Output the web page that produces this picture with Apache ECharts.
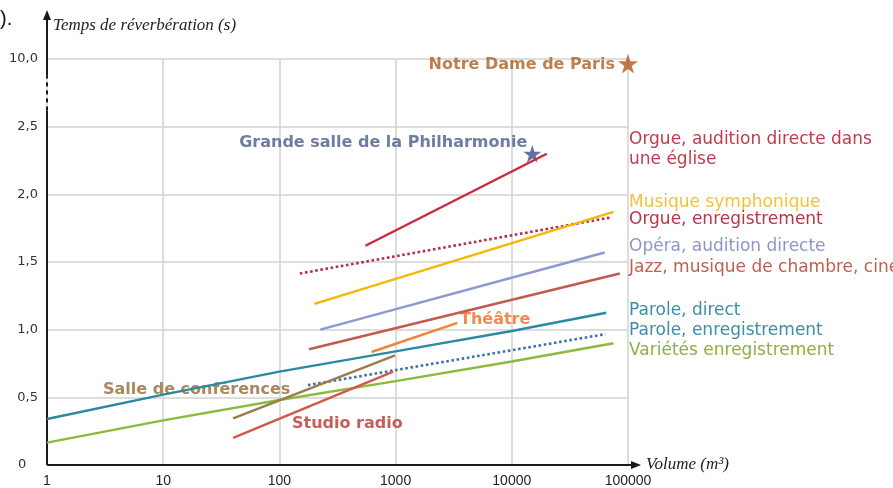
<!DOCTYPE html>
<html>
<head>
<meta charset="utf-8">
<script src="https://cdn.jsdelivr.net/npm/echarts@6/dist/echarts.min.js"></script>
<style>
html, body { margin: 0; padding: 0; background: #fff; }
#chart { width: 893px; height: 488px; }
</style>
</head>
<body>
<div id="chart"></div>
<script>
var orgueDirect = [[550, 1.62], [20000, 2.30]];
var orgueEnreg = [[150, 1.415], [72000, 1.83]];
var symphonique = [[200, 1.19], [75000, 1.87]];
var opera = [[225, 1.00], [63000, 1.57]];
var jazz = [[180, 0.855], [85000, 1.415]];
var theatre = [[620, 0.835], [3400, 1.05]];
var paroleDirect = [[1, 0.34], [10, 0.52], [100, 0.69], [1000, 0.84], [10000, 0.99], [65000, 1.125]];
var paroleEnreg = [[176, 0.59], [64000, 0.967]];
var varietes = [[1, 0.165], [10, 0.33], [100, 0.48], [1000, 0.62], [10000, 0.765], [75000, 0.90]];
var conferences = [[40, 0.345], [990, 0.81]];
var studioRadio = [[40, 0.20], [955, 0.69]];
var philharmonie = [[15000, 2.3]];
var notreDame = [[100000, 9.5]];

var yTicks = [0, 0.5, 1, 1.5, 2, 2.5, 10];

// the y axis is broken between 2,5 and 10,0 : one more step stands for 10 s
var BREAK_LOW = 2.5, BREAK_HIGH = 10, BREAK_TOP = 3;
function toAxisY(v) {
  return v <= BREAK_LOW ? v : BREAK_LOW + (v - BREAK_LOW) * (BREAK_TOP - BREAK_LOW) / (BREAK_HIGH - BREAK_LOW);
}
function mapPts(pts) {
  return pts.map(function (p) { return [p[0], toAxisY(p[1])]; });
}
function fr(v) {
  return v === 0 ? '0' : v.toFixed(1).replace('.', ',');
}

var STAR = 'path://M50,0 L61,35 L98,35 L68,57 L79,91 L50,70 L21,91 L32,57 L2,35 L39,35 Z';
var LABEL_FONT = 'DejaVu Sans';

function line(name, data, color, dotted) {
  return {
    name: name,
    type: 'line',
    data: mapPts(data),
    showSymbol: false,
    silent: true,
    lineStyle: { color: color, width: dotted ? 2.6 : 2.4, type: dotted ? 'dotted' : 'solid' }
  };
}

var chart = echarts.init(document.getElementById('chart'));
chart.setOption({
  animation: false,
  grid: { left: 47, right: 265, top: 59, bottom: 23 },
  xAxis: {
    type: 'log',
    logBase: 10,
    min: 1,
    max: 100000,
    name: 'Volume (m³)',
    nameLocation: 'end',
    nameGap: 18,
    nameTextStyle: { fontFamily: 'Liberation Serif', fontStyle: 'italic', fontSize: 17, color: '#222' },
    axisLine: { show: false },
    axisTick: { show: false },
    axisLabel: {
      margin: 9,
      fontFamily: 'Liberation Sans',
      fontSize: 14,
      color: '#222',
      formatter: function (v) { return String(Math.round(v)); }
    },
    splitLine: { show: true, lineStyle: { color: '#d2d2d2', width: 1.5 } }
  },
  yAxis: {
    type: 'value',
    min: 0,
    max: BREAK_TOP,
    interval: 0.5,
    axisLine: { show: false },
    axisTick: { show: false },
    axisLabel: {
      margin: 9,
      fontFamily: 'DejaVu Sans',
      fontSize: 13,
      color: '#333',
      formatter: function (v) {
        var real = yTicks[Math.round(v / 0.5)];
        return real === 0 ? '{z|0}' : fr(real);
      },
      rich: { z: { width: 20, align: 'left', fontFamily: 'DejaVu Sans', fontSize: 13, color: '#333' } }
    },
    splitLine: { show: true, lineStyle: { color: '#d2d2d2', width: 1.5 } }
  },
  series: [
    line('Orgue, audition directe dans une église', orgueDirect, '#cc2a3c'),
    line('Orgue, enregistrement', orgueEnreg, '#b02e50', true),
    line('Musique symphonique', symphonique, '#f5b800'),
    line('Opéra, audition directe', opera, '#8e99d2'),
    line('Jazz, musique de chambre, cinéma', jazz, '#c25a50'),
    line('Théâtre', theatre, '#f2843a'),
    line('Parole, direct', paroleDirect, '#2a8aa2'),
    line('Parole, enregistrement', paroleEnreg, '#3a72aa', true),
    line('Variétés enregistrement', varietes, '#8cba3c'),
    line('Salle de conférences', conferences, '#9c7c4c'),
    line('Studio radio', studioRadio, '#d2584e'),
    {
      name: 'Grande salle de la Philharmonie',
      type: 'scatter',
      data: mapPts(philharmonie),
      symbol: STAR,
      symbolSize: 18,
      itemStyle: { color: '#3d4d8c' },
      label: {
        show: true,
        formatter: 'Grande salle de la Philharmonie',
        position: 'left',
        distance: -4,
        offset: [0, -11],
        fontFamily: LABEL_FONT,
        fontWeight: 'bold',
        fontSize: 16,
        color: '#4b5a8a'
      }
    },
    {
      name: 'Notre Dame de Paris',
      type: 'scatter',
      data: mapPts(notreDame),
      symbol: STAR,
      symbolSize: 20,
      itemStyle: { color: '#b3561a' },
      label: {
        show: true,
        formatter: 'Notre Dame de Paris',
        position: 'left',
        distance: 3,
        offset: [0, 1],
        fontFamily: LABEL_FONT,
        fontWeight: 'bold',
        fontSize: 16,
        color: '#ae5f20'
      }
    }
  ]
});

// axis lines with arrows, the broken part of the y axis, and the annotations
function px(x, y) { return chart.convertToPixel({ gridIndex: 0 }, [x, y]); }
var o = px(1, 0);
var lowBreak = px(1, 2.62);
var highBreak = px(1, 2.88);
var xEnd = px(100000, 0)[0];
var axisStyle = { stroke: '#1a1a1a', lineWidth: 2 };

function txt(text, x, y, color, size, weight) {
  return {
    type: 'text',
    x: x,
    y: y,
    silent: true,
    style: {
      text: text,
      fill: color,
      fontFamily: LABEL_FONT,
      fontSize: size || 17,
      fontWeight: weight || 'normal',
      verticalAlign: 'middle'
    }
  };
}

chart.setOption({
  graphic: [
    { type: 'line', shape: { x1: o[0], y1: o[1], x2: lowBreak[0], y2: lowBreak[1] }, style: axisStyle },
    { type: 'line', shape: { x1: o[0], y1: lowBreak[1], x2: o[0], y2: highBreak[1] }, style: { stroke: '#1a1a1a', lineWidth: 2, lineDash: [4, 4] } },
    { type: 'line', shape: { x1: o[0], y1: highBreak[1], x2: o[0], y2: 18 }, style: axisStyle },
    { type: 'polygon', shape: { points: [[o[0], 10], [o[0] - 4, 20], [o[0] + 4, 20]] }, style: { fill: '#1a1a1a' } },
    { type: 'line', shape: { x1: o[0], y1: o[1], x2: xEnd + 6, y2: o[1] }, style: axisStyle },
    { type: 'polygon', shape: { points: [[xEnd + 13, o[1]], [xEnd + 3, o[1] - 4], [xEnd + 3, o[1] + 4]] }, style: { fill: '#1a1a1a' } },
    {
      type: 'text', x: o[0] + 6, y: 26, silent: true,
      style: { text: 'Temps de réverbération (s)', fill: '#222', fontFamily: 'Liberation Serif', fontStyle: 'italic', fontSize: 17, verticalAlign: 'middle' }
    },
    { type: 'text', x: 0, y: 19, silent: true, style: { text: ').', fill: '#111', fontFamily: 'Liberation Sans', fontSize: 20, verticalAlign: 'middle' } },

    txt('Salle de conférences', 103, 390, '#a8885c', 16, 'bold'),
    txt('Studio radio', 292, 424, '#c4605a', 16, 'bold'),
    txt('Théâtre', 460, 320, '#f08a50', 16, 'bold'),

    txt('Orgue, audition directe dans', 629, 140, '#c23a4e'),
    txt('une église', 629, 160, '#c23a4e'),
    txt('Musique symphonique', 629, 203, '#f2c23c'),
    txt('Orgue, enregistrement', 629, 220, '#b8364a'),
    txt('Opéra, audition directe', 629, 247, '#8e96c6'),
    txt('Jazz, musique de chambre, cinéma', 629, 268, '#c2604f'),
    txt('Parole, direct', 629, 311, '#3a8ea6'),
    txt('Parole, enregistrement', 629, 331, '#3a8ea6'),
    txt('Variétés enregistrement', 629, 351, '#8cb042')
  ]
});
</script>
</body>
</html>
